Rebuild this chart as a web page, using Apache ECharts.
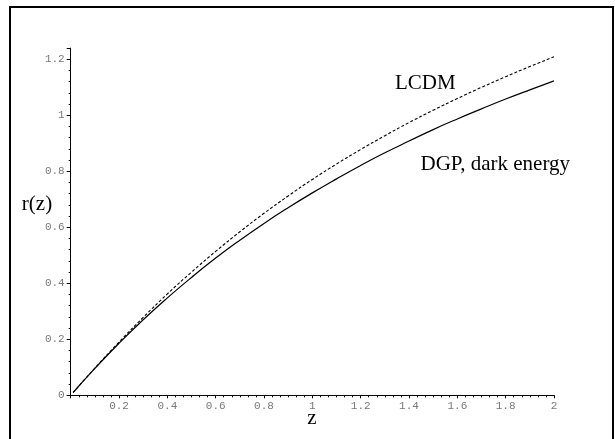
<!DOCTYPE html>
<html>
<head>
<meta charset="utf-8">
<script src="https://cdn.jsdelivr.net/npm/echarts@6/dist/echarts.min.js"></script>
<style>
html,body{margin:0;padding:0;background:#fff;}
#chart{width:615px;height:439px;}
</style>
</head>
<body>
<div id="chart"></div>
<script>
// redshift samples
var zValues = [0.01, 0.1, 0.2, 0.3, 0.4, 0.5, 0.6, 0.7, 0.8, 0.9, 1.0, 1.1, 1.2, 1.3, 1.4, 1.5, 1.6, 1.7, 1.8, 1.9, 2.0];
// LCDM (dashed)
var lcdmValues = [0.010, 0.097, 0.190, 0.278, 0.362, 0.440, 0.514, 0.584, 0.650, 0.712, 0.771, 0.826, 0.878, 0.927, 0.974, 1.018, 1.060, 1.100, 1.138, 1.174, 1.209];
// DGP, dark energy (solid)
var dgpValues = [0.010, 0.096, 0.186, 0.270, 0.348, 0.421, 0.490, 0.554, 0.614, 0.670, 0.723, 0.773, 0.821, 0.866, 0.908, 0.949, 0.987, 1.023, 1.058, 1.091, 1.123];
var xTicks = [0.2, 0.4, 0.6, 0.8, 1, 1.2, 1.4, 1.6, 1.8, 2];
var yTicks = [0, 0.2, 0.4, 0.6, 0.8, 1, 1.2];

function pairs(xs, ys) { return xs.map(function (x, i) { return [x, ys[i]]; }); }

var chart = echarts.init(document.getElementById('chart'), null, {renderer: 'canvas'});
var tickFont = {fontFamily: 'Liberation Mono', fontSize: 11, color: '#777777'};
chart.setOption({
  animation: false,
  backgroundColor: '#fff',
  grid: {left: 70.7, right: 61, top: 48.1, bottom: 43.7, containLabel: false},
  xAxis: {
    type: 'value', min: 0, max: 2, interval: 0.2,
    axisLine: {onZero: false, lineStyle: {color: '#000', width: 1}},
    axisTick: {show: true, length: 3, lineStyle: {color: '#000'}},
    minorTick: {show: true, splitNumber: 6, length: 2, lineStyle: {color: '#000'}},
    splitLine: {show: false},
    axisLabel: Object.assign({showMinLabel: false, margin: 5,
      formatter: function (v) { return xTicks.indexOf(+v.toFixed(2)) >= 0 ? String(+v.toFixed(2)) : ''; }}, tickFont)
  },
  yAxis: {
    type: 'value', min: 0, max: 1.24, interval: 0.2,
    axisLine: {onZero: false, lineStyle: {color: '#000', width: 1}},
    axisTick: {show: true, length: 4, lineStyle: {color: '#000'}},
    minorTick: {show: true, splitNumber: 5, length: 2, lineStyle: {color: '#000'}},
    splitLine: {show: false},
    axisLabel: Object.assign({showMaxLabel: false, margin: 6,
      formatter: function (v) { return yTicks.indexOf(+v.toFixed(2)) >= 0 ? String(+v.toFixed(2)) : ''; }}, tickFont)
  },
  series: [
    {name: 'LCDM', type: 'line', data: pairs(zValues, lcdmValues), smooth: true, symbol: 'none',
     lineStyle: {color: '#000', width: 1.1, type: [3, 2]}},
    {name: 'DGP, dark energy', type: 'line', data: pairs(zValues, dgpValues), smooth: true, symbol: 'none',
     lineStyle: {color: '#000', width: 1.2, type: 'solid'}}
  ],
  graphic: [
    {type: 'rect', shape: {x: 10, y: 7, width: 603, height: 450}, style: {fill: 'none', stroke: '#000', lineWidth: 2}, silent: true},
    {type: 'text', x: 395, y: 83, style: {text: 'LCDM', font: '21px "Liberation Serif"', fill: '#000', textVerticalAlign: 'middle'}},
    {type: 'text', x: 420.5, y: 164.5, style: {text: 'DGP, dark energy', font: '21px "Liberation Serif"', fill: '#000', textVerticalAlign: 'middle'}},
    {type: 'text', x: 37, y: 204, style: {text: 'r(z)', font: '21px "Liberation Serif"', fill: '#000', textAlign: 'center', textVerticalAlign: 'middle'}},
    {type: 'text', x: 312, y: 418, style: {text: 'z', font: '21px "Liberation Serif"', fill: '#000', textAlign: 'center', textVerticalAlign: 'middle'}}
  ]
});
</script>
</body>
</html>
